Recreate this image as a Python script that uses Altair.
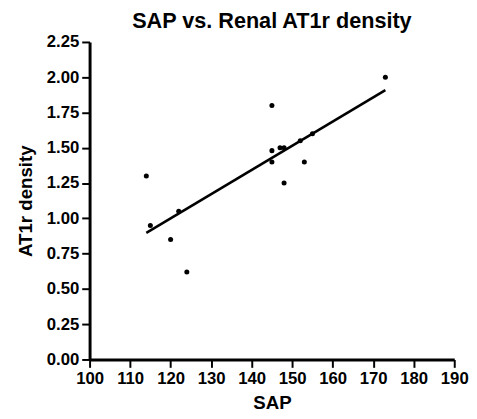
import altair as alt
import pandas as pd

sap = [114, 115, 120, 122, 124, 145, 145, 145, 147, 148, 148, 152, 153, 155, 173]
at1r = [1.30, 0.95, 0.85, 1.05, 0.62, 1.80, 1.48, 1.40, 1.50, 1.50, 1.25, 1.55, 1.40, 1.60, 2.00]
x_ticks = [100, 110, 120, 130, 140, 150, 160, 170, 180, 190]
y_ticks = [0.0, 0.25, 0.5, 0.75, 1.0, 1.25, 1.5, 1.75, 2.0, 2.25]

df = pd.DataFrame({"SAP": sap, "AT1r": at1r})
FONT = "Liberation Sans"

x_enc = alt.X("SAP:Q", title="SAP",
              scale=alt.Scale(domain=[100, 190], nice=False, zero=False),
              axis=alt.Axis(values=x_ticks, format="d", labelFontSize=17,
                            titleFontSize=19, labelPadding=3, titlePadding=8,
                            labelOverlap=False, labelFlush=False))
y_enc = alt.Y("AT1r:Q", title="AT1r density",
              scale=alt.Scale(domain=[0, 2.25], nice=False),
              axis=alt.Axis(values=y_ticks, format=".2f", labelFontSize=17,
                            titleFontSize=19, labelPadding=3, titlePadding=11,
                            labelOverlap=False, labelFlush=False))

points = alt.Chart(df).mark_circle(size=26, color="black", opacity=1).encode(x=x_enc, y=y_enc)
line = alt.Chart(df).transform_regression("SAP", "AT1r").mark_line(
    color="black", strokeWidth=2.6).encode(x=x_enc, y=y_enc)

chart = (line + points).properties(
    width=371, height=323,
    title=alt.TitleParams("SAP vs. Renal AT1r density", fontSize=22, font=FONT,
                          fontWeight="bold", color="black", anchor="middle", offset=0),
    autosize=alt.AutoSizeParams(type="none"),
    padding={"left": 83, "top": 31, "right": 15, "bottom": 57},
).configure_view(stroke=None).configure_axis(
    grid=False, domainColor="black", domainWidth=3, tickColor="black",
    tickWidth=2, tickSize=8, labelColor="black", titleColor="black",
    labelFont=FONT, titleFont=FONT, labelFontWeight="bold", titleFontWeight="bold",
)

chart.save("out.html", embed_options={"renderer": "svg", "actions": False})
